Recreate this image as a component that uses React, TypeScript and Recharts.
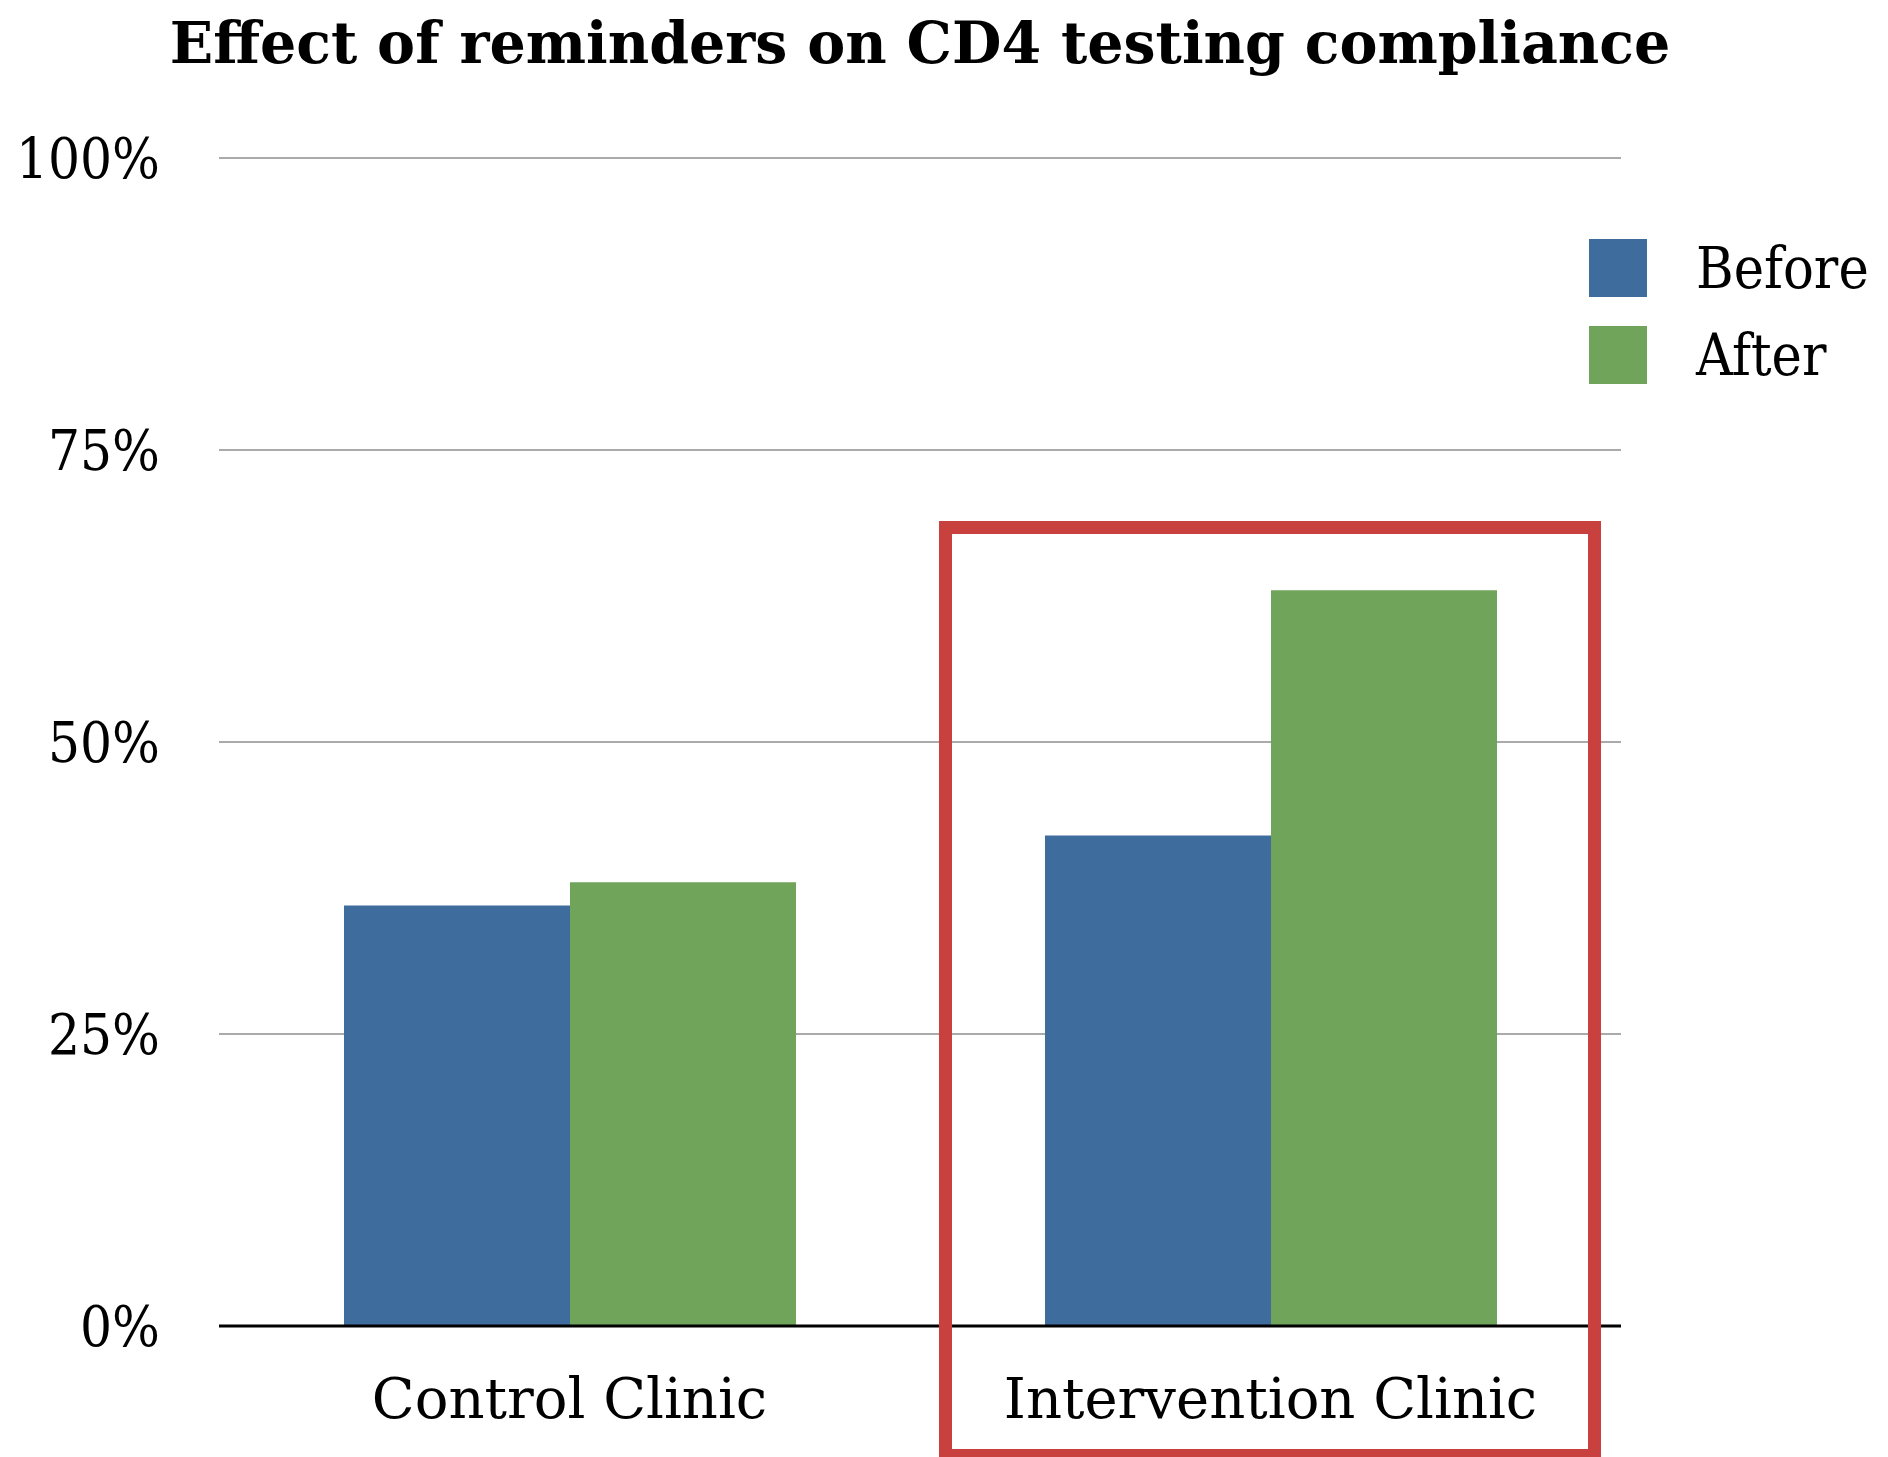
import { BarChart, Bar, XAxis, YAxis, CartesianGrid } from 'recharts';

// Données
const clinics = ['Control Clinic', 'Intervention Clinic'];
const beforeValues = [36, 42];
const afterValues = [38, 63];
const yTicks = [0, 25, 50, 75, 100];

const BLUE = '#3e6c9c';
const GREEN = '#6fa45a';
const RED = '#c8413f';
const FONT = '"DejaVu Serif", serif';
const FONT_NARROW = '"DejaVu Serif Condensed", "DejaVu Serif", serif';

const data = clinics.map((name, i) => ({
  name,
  before: beforeValues[i],
  after: afterValues[i],
}));

const legendItems = [
  { label: 'Before', color: BLUE },
  { label: 'After', color: GREEN },
];

// Légende à droite (hors du calcul de mise en page du graphique)
function LegendBox() {
  return (
    <div style={{ position: 'absolute', left: 1589, top: 239, fontFamily: FONT_NARROW, fontSize: 57 }}>
      {legendItems.map((it) => (
        <div key={it.label} style={{ display: 'flex', alignItems: 'center', height: 58, marginBottom: 29 }}>
          <span style={{ width: 58, height: 58, background: it.color, display: 'inline-block' }} />
          <span style={{ marginLeft: 49, color: '#000', lineHeight: '58px', whiteSpace: 'nowrap' }}>{it.label}</span>
        </div>
      ))}
    </div>
  );
}

export default function App() {
  return (
    <div style={{ position: 'absolute', left: 0, top: 0, width: 1888, height: 1457, overflow: 'hidden', background: '#fff' }}>
      {/* Titre */}
      <div
        style={{
          position: 'absolute',
          left: 0,
          width: 1840,
          top: 8,
          textAlign: 'center',
          fontFamily: FONT,
          fontWeight: 'bold',
          fontSize: 57,
          color: '#000',
          lineHeight: '70px',
        }}
      >
        Effect of reminders on CD4 testing compliance
      </div>

      <BarChart
        width={1888}
        height={1457}
        data={data}
        margin={{ top: 158, right: 267, bottom: 0, left: 0 }}
        barCategoryGap={125}
        barGap={0}
      >
        <CartesianGrid vertical={false} stroke="#aaaaaa" strokeWidth={2} />
        <XAxis
          dataKey="name"
          height={131}
          axisLine={{ stroke: '#000', strokeWidth: 3 }}
          tickLine={false}
          tickSize={0}
          tickMargin={52}
          tick={{ fill: '#000', fontFamily: FONT, fontSize: 56 }}
        />
        <YAxis
          width={219}
          domain={[0, 100]}
          ticks={yTicks}
          axisLine={false}
          tickLine={false}
          tickSize={0}
          tickMargin={59}
          tickFormatter={(v) => `${v}%`}
          tick={{ fill: '#000', fontFamily: FONT_NARROW, fontSize: 56 }}
        />
        <Bar dataKey="before" name="Before" fill={BLUE} isAnimationActive={false} />
        <Bar dataKey="after" name="After" fill={GREEN} isAnimationActive={false} />
      </BarChart>

      <LegendBox />

      {/* Cadre rouge autour de la clinique d'intervention */}
      <div
        style={{
          position: 'absolute',
          left: 939,
          top: 521,
          width: 662,
          height: 941,
          boxSizing: 'border-box',
          border: `13px solid ${RED}`,
          pointerEvents: 'none',
        }}
      />
    </div>
  );
}
